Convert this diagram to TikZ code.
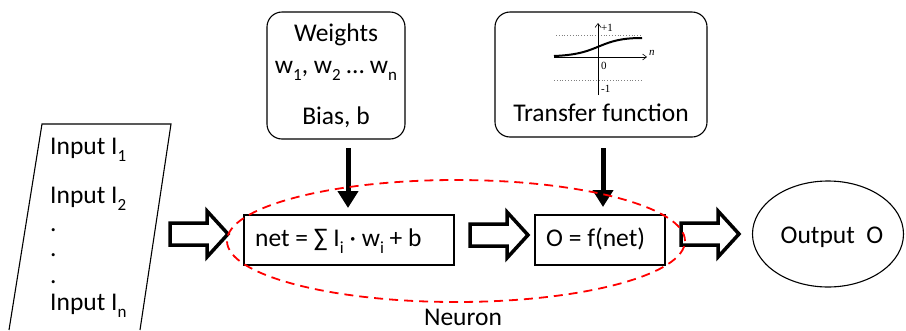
\documentclass[tikz,border=0pt]{standalone}
\usepackage{fontspec}
\setmainfont{Carlito}
\newfontfamily\gfont{Liberation Serif}
\usetikzlibrary{arrows.meta,shapes.geometric}
\newcommand\sbx[1]{\raisebox{-0.3em}{\fontsize{17}{17}\selectfont #1}}
\tikzset{
  box/.style={draw, line width=1.1pt, inner sep=0pt},
  rbox/.style={box, rounded corners=15pt},
  txt/.style={anchor=base, inner sep=0pt},
  txtw/.style={anchor=base west, inner sep=0pt},
  downarrow/.style={line width=5pt, -{Triangle[length=17pt,width=20pt]}},
  small/.style={font=\gfont\fontsize{11}{11}\selectfont, inner sep=0pt},
  hollow/.pic={\draw[line width=3.5pt, line join=miter]
     (0,-11) -- (37,-11) -- (37,-23) -- (58,0) -- (37,23) -- (37,11) -- (0,11) -- cycle;}
}
\begin{document}
\begin{tikzpicture}[x=1pt,y=-1pt, font=\fontsize{25.5}{28}\selectfont]
\useasboundingbox (0,0) rectangle (906,330);
% input parallelogram
\coordinate (pbl) at (9,330);
\coordinate (ptl) at (42,124);
\coordinate (ptr) at (171,124);
\coordinate (pbr) at (140,330);
\draw[line width=1.1pt] (pbl) -- (ptl) -- (ptr) -- (pbr);
\node[txtw] (i1) at (50,154) {Input I\sbx{1}};
\node[txtw] (i2) at (50,203) {Input I\sbx{2}};
\node[txtw] (d1) at (50,231) {.};
\node[txtw] (d2) at (50,256) {.};
\node[txtw] (d3) at (50,283) {.};
\node[txtw] (in) at (50,310) {Input I\sbx{n}};
% weights box
\node[rbox, minimum width=138pt, minimum height=127pt] (wts) at (336,75.5) {};
\node[txt] (wt1) at (336,41) {Weights};
\node[txt] (wt2) at (336,73) {w\sbx{1}, w\sbx{2} … w\sbx{n}};
\node[txt] (wt3) at (336,124) {Bias, b};
% transfer box
\node[rbox, minimum width=212pt, minimum height=125pt] (tf) at (601,74.5) {};
\node[txt] (tft) at (601,121) {Transfer function};
% small graph
\draw[gray, dotted, line width=0.8pt] (556,35) -- (642,35);
\draw[gray, dotted, line width=0.8pt] (554,80) -- (641,80);
\draw[line width=0.6pt, -{Straight Barb[length=4pt,width=6pt]}] (598,95) -- (598,23);
\draw[line width=0.6pt, -{Straight Barb[length=4pt,width=6pt]}] (554,57) -- (647,57);
\draw[line width=2pt] (554,56) .. controls (580,55) and (590,50) .. (600,46)
   .. controls (612,41) and (622,38) .. (642,38);
\node[small, anchor=west] (gp1) at (601,28) {+1};
\node[small, anchor=west] (g0) at (601,66) {0};
\node[small, anchor=west] (gm1) at (601,89) {-1};
\node[small, anchor=west] (gn) at (649,53) {\itshape n};
% neuron boxes
\node[box, minimum width=210pt, minimum height=50pt] (net) at (349,240) {};
\node[txtw] (nett) at (255,246) {net = ∑ I\sbx{i} · w\sbx{i} + b};
\node[box, minimum width=130pt, minimum height=50pt] (out) at (600,240) {};
\node[txtw] (outt) at (546,246) {O = f(net)};
% output ellipse
\node[draw, ellipse, line width=1.1pt, minimum width=151pt, minimum height=106pt, inner sep=0pt] (oe) at (828,234) {};
\node[txt] (oet) at (832,243) {Output\ \ O};
% vertical arrows
\coordinate (a1s) at (348,148);
\coordinate (a1e) at (348,208);
\coordinate (a2s) at (603,148);
\coordinate (a2e) at (603,207);
\draw[downarrow] (a1s) -- (a1e);
\draw[downarrow] (a2s) -- (a2e);
% hollow arrows
\pic at (170,234) {hollow};
\pic at (470,235) {hollow};
\pic at (681,234) {hollow};
% neuron ellipse
\node[draw=red, ellipse, line width=1.8pt, dash pattern=on 9pt off 6pt, minimum width=458pt, minimum height=122pt, inner sep=0pt] (neuron) at (456,241) {};
\node[txt] (nl) at (463,325) {Neuron};
\end{tikzpicture}
\end{document}
